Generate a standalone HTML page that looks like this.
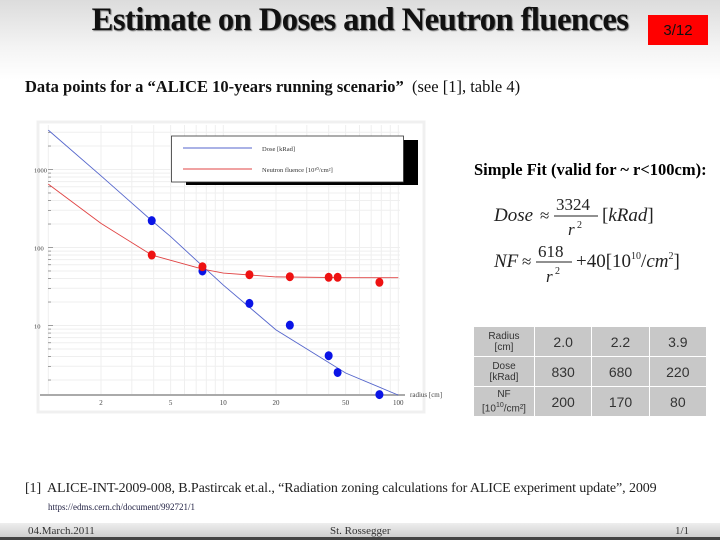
<!DOCTYPE html>
<html><head><meta charset="utf-8">
<style>
body{margin:0;width:720px;height:540px;overflow:hidden;background:#fff;font-family:"Liberation Serif",serif;position:relative}
.abs{position:absolute}
#bg{left:0;top:0;width:720px;height:80px;background:linear-gradient(#dcdcdc,#f4f4f4 60%,#fff)}
#title{left:40px;top:2px;width:640px;text-align:center;font-weight:bold;font-size:33px;color:#111;text-shadow:1px 1px 1px #777;letter-spacing:-0.6px;transform:scaleX(0.99)}
#pg{left:648px;top:15px;width:60px;height:30px;background:#f00;color:#111;font-family:"Liberation Sans",sans-serif;font-size:15px;text-align:center;line-height:32px}
#sub{left:25px;top:77px;font-size:16.5px;font-weight:bold;color:#111}
#fit{left:474px;top:160px;font-size:16.5px;font-weight:bold}
.eq{font-family:"Liberation Serif",serif;font-size:20px;color:#222}
table{border-collapse:collapse;font-family:"Liberation Sans",sans-serif;color:#333}
td{background:#c8c8c8;border:1px solid #fff;text-align:center;font-size:14px;height:27px}
td.h{font-size:10px;line-height:11px;width:58px}
#ref{left:25px;top:481px;font-size:14px;color:#222;letter-spacing:-0.1px}
#url{left:48px;top:502px;font-size:9px;color:#224}
#foot{left:0;top:523px;width:720px;height:17px;background:linear-gradient(#eee,#cfcfcf);border-bottom:3px solid #444;box-sizing:border-box;font-size:11px;color:#333}
</style></head><body>
<div id="bg" class="abs"></div>
<div id="title" class="abs">Estimate on Doses and Neutron fluences</div>
<div id="pg" class="abs">3/12</div>
<div id="sub" class="abs">Data points for a “ALICE 10-years running scenario” <span style="font-weight:normal">&nbsp;(see [1], table 4)</span></div>

<svg class="abs" style="left:0;top:0" width="720" height="540">
<g id="chart"></g>
</svg>

<div id="fit" class="abs">Simple Fit (valid for ~ r&lt;100cm):</div>
<svg class="abs eq" style="left:490px;top:190px" width="230" height="100">
<g font-family="Liberation Serif,serif" fill="#222">
<text x="4" y="31" font-size="19" font-style="italic">Dose</text>
<text x="50" y="31" font-size="17">≈</text>
<text x="66" y="20" font-size="17">3324</text><line x1="64" y1="26" x2="108" y2="26" stroke="#222"/>
<text x="78" y="45" font-size="17" font-style="italic">r</text><text x="87" y="38" font-size="10">2</text>
<text x="112" y="31" font-size="19">[<tspan font-style="italic">kRad</tspan>]</text>
<text x="4" y="77" font-size="19" font-style="italic">NF</text>
<text x="32" y="77" font-size="17">≈</text>
<text x="48" y="67" font-size="17">618</text><line x1="46" y1="72" x2="82" y2="72" stroke="#222"/>
<text x="56" y="92" font-size="17" font-style="italic">r</text><text x="65" y="84" font-size="10">2</text>
<text x="86" y="77" font-size="19">+40[10<tspan font-size="10" dy="-8">10</tspan><tspan dy="8">/</tspan><tspan font-style="italic">cm</tspan><tspan font-size="10" dy="-8">2</tspan><tspan dy="8">]</tspan></text>
</g></svg>

<table class="abs" style="left:473px;top:326px;width:234px">
<tr><td class="h">Radius<br>[cm]</td><td>2.0</td><td>2.2</td><td>3.9</td></tr>
<tr><td class="h">Dose<br>[kRad]</td><td>830</td><td>680</td><td>220</td></tr>
<tr><td class="h">NF<br>[10<sup style="font-size:7px">10</sup>/cm²]</td><td>200</td><td>170</td><td>80</td></tr>
</table>

<div id="ref" class="abs">[1]&nbsp; ALICE-INT-2009-008, B.Pastircak et.al., “Radiation zoning calculations for ALICE experiment update”, 2009</div>
<div id="url" class="abs">https://edms.cern.ch/document/992721/1</div>
<div id="foot" class="abs">
<span class="abs" style="left:28px;top:2px">04.March.2011</span>
<span class="abs" style="left:330px;top:2px">St. Rossegger</span>
<span class="abs" style="left:675px;top:2px">1/1</span>
</div>

<script>
const doseR=[3.9,7.6,14.1,24,40,45,78];
const doseV=[221,50,19.2,10.1,4.1,2.5,1.3];
const nfR=[3.9,7.6,14.1,24,40,45,78];
const nfV=[80,56.7,44.8,42.2,41.5,41.5,35.8];
const doseLineR=[1,2,3.9,5,7.6,10,20,50,100];
const doseLineV=[3200,830,221,138,58,33,8.8,2.46,1.28];
const nfLineR=[1,2,3.9,7.6,10,20,50,100];
const nfLineV=[650,204,80,53,47,42,41,41];
const xTicks=[2,5,10,20,50,100];
const yTicks=[10,100,1000];

const NS="http://www.w3.org/2000/svg";
const g=document.getElementById('chart');
const X=r=>48.3+175*Math.log10(r);
const Y=v=>247.5-78*(Math.log10(v)-2);
function el(t,a,p){const e=document.createElementNS(NS,t);for(const k in a)e.setAttribute(k,a[k]);(p||g).appendChild(e);return e;}
const frame=el('rect',{x:38,y:122,width:386,height:290,fill:'#fff',stroke:'#f0f0f0','stroke-width':3});


for(let d=1;d<=100;d*=10)for(let m=1;m<10;m++){const r=d*m;if(r>100)break;const l=el('line',{x1:X(r),x2:X(r),y1:125,y2:395,stroke:'#efefef','stroke-width':1});

}
for(let d=1;d<=1000;d*=10)for(let m=1;m<10;m++){const v=d*m;const y=Y(v);if(y<125||y>395)continue;const l=el('line',{x1:48,x2:400,y1:y,y2:y,stroke:'#efefef','stroke-width':1});


const t=el('line',{x1:48,x2:m==1?53:51,y1:y,y2:y,stroke:'#666','stroke-width':0.6});

}
const ax=el('line',{x1:40,x2:405,y1:395,y2:395,stroke:'#aaa','stroke-width':2});


xTicks.forEach(r=>{const t=el('text',{x:X(r),y:405,'font-size':7,'text-anchor':'middle',fill:'#444'});t.textContent=r;

});
yTicks.forEach(v=>{const t=el('text',{x:34,y:Y(v)+3,'font-size':6.5,fill:'#444'});t.textContent=v;

});
const xl=el('text',{x:410,y:397,'font-size':7,fill:'#444'});xl.textContent='radius [cm]';


function line(R,V,c,n){const p=el('polyline',{points:R.map((r,i)=>X(r)+','+Y(V[i])).join(' '),fill:'none',stroke:c,'stroke-width':0.9});

}
line(doseLineR,doseLineV,'#5566cc','dose-fit-line');
line(nfLineR,nfLineV,'#e04444','nf-fit-line');
function pts(R,V,c,n){R.forEach((r,i)=>{const e=el('ellipse',{cx:X(r),cy:Y(V[i]),rx:4,ry:4.5,fill:c});

});}
pts(doseR,doseV,'#0a14e6','dose-point');
pts(nfR,nfV,'#ee1111','nf-point');
const lg=el('g',{});


el('rect',{x:186,y:140,width:232,height:45,fill:'#000'},lg);
el('rect',{x:171.5,y:136,width:232,height:46,fill:'#fff',stroke:'#333','stroke-width':0.8},lg);
el('line',{x1:183,x2:252,y1:148,y2:148,stroke:'#5566cc'},lg);
el('line',{x1:183,x2:252,y1:169,y2:169,stroke:'#e04444'},lg);
const t1=el('text',{x:262,y:151,'font-size':6.5,fill:'#333'},lg);t1.textContent='Dose [kRad]';


const t2=el('text',{x:262,y:172,'font-size':6.5,fill:'#333'},lg);t2.textContent='Neutron fluence [10¹⁰/cm²]';


</script>
</body></html>
